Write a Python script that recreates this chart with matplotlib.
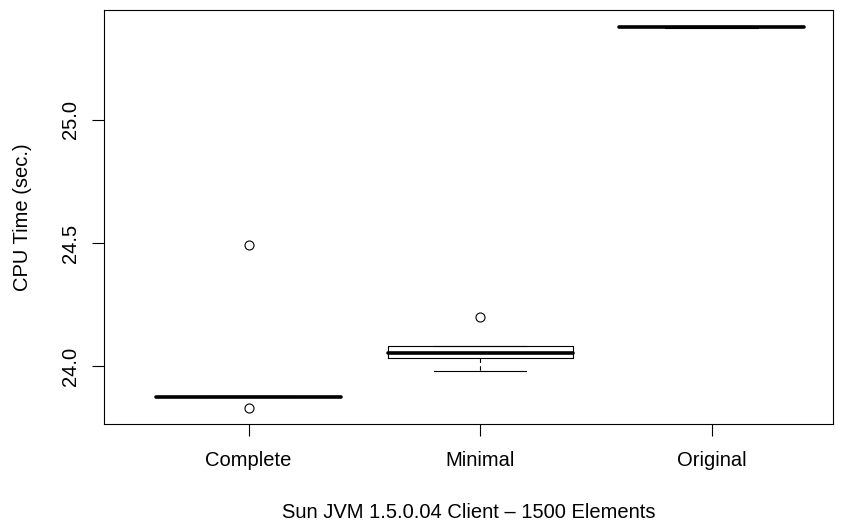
import matplotlib
matplotlib.use("Agg")
import matplotlib.pyplot as plt

# Data
groups = ['Complete', 'Minimal', 'Original']
medians = [23.874, 24.054, 25.378]
q1 = [23.872, 24.031, 25.376]
q3 = [23.876, 24.083, 25.380]
whislo = [23.872, 23.981, 25.375]
whishi = [23.876, 24.083, 25.381]
fliers = [[24.492, 23.829], [24.198], []]
yticks = [24.0, 24.5, 25.0]

plt.rcParams['font.family'] = ['Liberation Sans', 'DejaVu Sans']

fig = plt.figure(figsize=(8.47, 5.23), dpi=100, facecolor='white')
ax = fig.add_axes([104 / 847, 1 - 424 / 523, (833 - 104) / 847, (424 - 10) / 523])

stats = []
for i, name in enumerate(groups):
    stats.append(dict(label=name, med=medians[i], q1=q1[i], q3=q3[i],
                      whislo=whislo[i], whishi=whishi[i], fliers=fliers[i]))

ax.bxp(stats, positions=[1, 2, 3], widths=0.8,
       boxprops=dict(color='black', linewidth=0.8),
       medianprops=dict(color='black', linewidth=2.6, solid_capstyle='round'),
       whiskerprops=dict(color='black', linewidth=0.8, linestyle=(0, (4, 3))),
       capprops=dict(color='black', linewidth=0.8),
       capwidths=0.4,
       flierprops=dict(marker='o', markerfacecolor='none', markeredgecolor='black',
                       markersize=6.5, markeredgewidth=0.8))

ax.set_xlim(0.375, 3.525)
ax.set_ylim(23.764, 25.447)
ax.set_yticks(yticks)
ax.set_yticklabels([f'{v:.1f}' for v in yticks], rotation=90, va='center')

for s in ax.spines.values():
    s.set_linewidth(0.8)
    s.set_color('black')

ax.tick_params(axis='both', length=8.6, width=0.8, labelsize=14.5, color='black')
ax.tick_params(axis='y', pad=8.5)
ax.tick_params(axis='x', pad=10.5)

ax.set_ylabel('CPU Time (sec.)', fontsize=14.5, labelpad=21)
ax.set_xlabel('Sun JVM 1.5.0.04 Client \u2013 1500 Elements', fontsize=14.5, labelpad=24)

fig.savefig('out.png', dpi=100, facecolor='white')
